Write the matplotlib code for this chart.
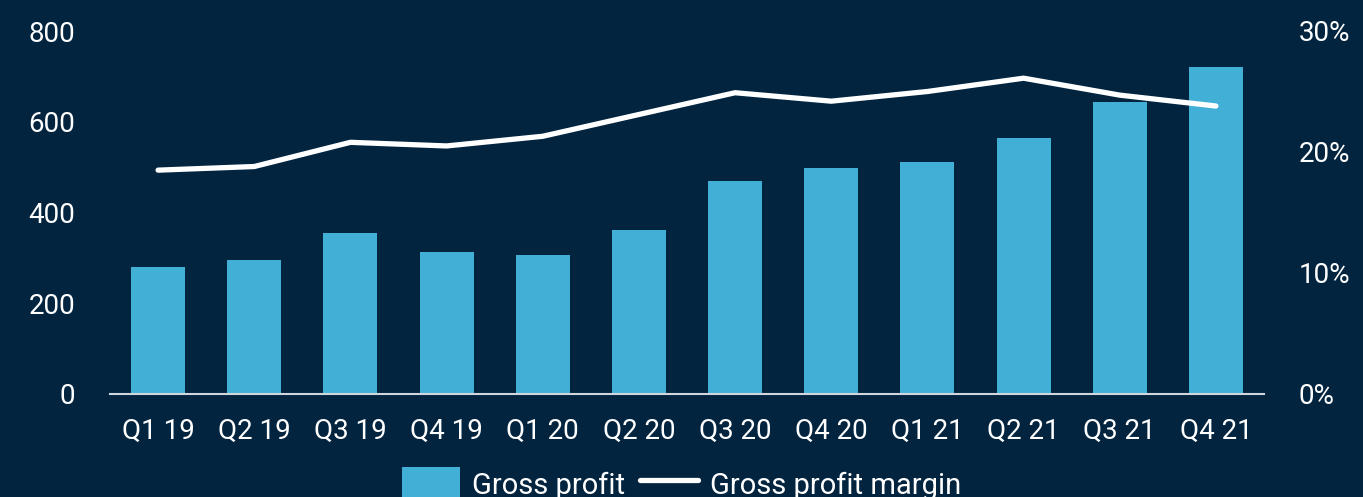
import matplotlib
matplotlib.use('Agg')
import matplotlib.pyplot as plt
import numpy as np

# values
quarters = ['Q1 19', 'Q2 19', 'Q3 19', 'Q4 19', 'Q1 20', 'Q2 20',
            'Q3 20', 'Q4 20', 'Q1 21', 'Q2 21', 'Q3 21', 'Q4 21']
gross_profit = [280, 295, 355, 313, 306, 361, 469, 498, 511, 564, 643, 720]
margin = [18.5, 18.8, 20.8, 20.5, 21.3, 23.1, 24.9, 24.2, 25.0, 26.1, 24.7, 23.8]

bg = '#02243f'
bar_col = '#42b0d6'
fs = 20

plt.rcParams['font.family'] = ['Roboto', 'DejaVu Sans']

fig = plt.figure(figsize=(13.63, 4.97), dpi=100, facecolor=bg)
ax = fig.add_axes([110/1363, 1-394/497, (1264-110)/1363, (394-31)/497])
ax.set_facecolor(bg)
x = np.arange(len(quarters))
b = ax.bar(x, gross_profit, width=0.56, color=bar_col, label='Gross profit', zorder=2)
ax.set_xlim(-0.5, len(quarters)-0.5)
ax.set_ylim(0, 800)
ax.set_yticks([0, 200, 400, 600, 800])
ax.set_xticks(x)
ax.set_xticklabels(quarters)
for s in ['top', 'right', 'left']:
    ax.spines[s].set_visible(False)
ax.spines['bottom'].set_color('#d0d6dc')
ax.spines['bottom'].set_linewidth(1.5)
ax.spines['bottom'].set_zorder(3)
ax.tick_params(axis='y', length=0, pad=25, labelsize=fs, labelcolor='white')
ax.tick_params(axis='x', length=0, pad=17, labelsize=fs, labelcolor='white')

ax2 = ax.twinx()
ln, = ax2.plot(x, margin, color='white', lw=3.8, solid_capstyle='round',
               solid_joinstyle='round', label='Gross profit margin', zorder=4)
ax2.set_ylim(0, 30)
ax2.set_yticks([0, 10, 20, 30])
ax2.set_yticklabels(['0%', '10%', '20%', '30%'])
for s in ax2.spines.values():
    s.set_visible(False)
ax2.tick_params(axis='y', length=0, pad=25, labelsize=fs, labelcolor='white')

leg = fig.legend([b, ln], ['Gross profit', 'Gross profit margin'], loc='center',
                 bbox_to_anchor=(0.5, 1-484/497), ncol=2, frameon=False,
                 fontsize=21, handlelength=2.0, handleheight=1.4,
                 columnspacing=0.5, handletextpad=0.4)
for t in leg.get_texts():
    t.set_color('white')

fig.savefig('out.png', dpi=100, facecolor=bg)
